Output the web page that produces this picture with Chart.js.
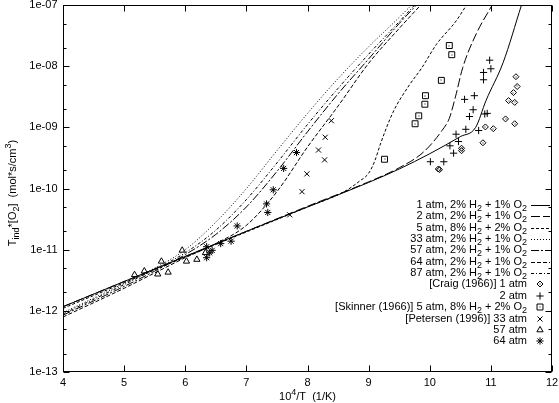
<!DOCTYPE html>
<html><head><meta charset="utf-8">
<script src="https://cdn.jsdelivr.net/npm/chart.js@4.4.0/dist/chart.umd.min.js"></script>
<style>html,body{margin:0;padding:0;background:#fff;}#wrap{width:559px;height:403px;}</style>
</head><body><div id="wrap"><canvas id="c" width="559" height="403"></canvas></div>
<script>
// ---------- axis ticks ----------
const xTicks = [4, 5, 6, 7, 8, 9, 10, 11, 12];
const xTickLabels = ['4', '5', '6', '7', '8', '9', '10', '11', '12'];
const yTicks = [1e-13, 1e-12, 1e-11, 1e-10, 1e-9, 1e-8, 1e-7];
const yTickLabels = ['1e-13', '1e-12', '1e-11', '1e-10', '1e-09', '1e-08', '1e-07'];
const yMinorMultipliers = [2, 5];
const xTitle = '10^4/T  (1/K)';
const yTitle = 'T_{ind}*[O_2]  (mol*s/cm^3)';

// ---------- model curves ----------
const x1atm = [4, 5, 6, 7, 8, 9, 9.5, 10, 10.5, 10.75, 10.92, 11.2, 11.5];
const y1atm = [1.17e-12, 3.02e-12, 7.76e-12, 2.0e-11, 5.0e-11, 1.26e-10, 2.09e-10, 3.72e-10, 7.08e-10, 1.0e-9, 2.75e-9, 1.15e-8, 1.0e-7];
const x2atm = [4, 5, 6, 7, 8, 9, 9.5, 9.9, 10.2, 10.32, 10.42, 10.54, 10.76, 11.02];
const y2atm = [1.17e-12, 3.02e-12, 7.76e-12, 2.0e-11, 5.13e-11, 1.29e-10, 2.19e-10, 3.98e-10, 8.91e-10, 1.41e-9, 3.16e-9, 9.55e-9, 3.39e-8, 1.0e-7];
const x5atm = [4, 5, 6, 7, 8, 8.6, 8.85, 9.0, 9.1, 9.2, 9.4, 9.67, 9.86, 10.11, 10.43, 10.6];
const y5atm = [1.10e-12, 2.88e-12, 7.59e-12, 1.95e-11, 5.01e-11, 8.91e-11, 1.32e-10, 1.78e-10, 2.82e-10, 5.62e-10, 1.78e-9, 5.01e-9, 9.12e-9, 2.29e-8, 5.50e-8, 1.0e-7];
const x33atm = [4, 5, 5.5, 6, 6.5, 7, 7.5, 8, 8.5, 9, 9.5, 9.7];
const y33atm = [9.33e-13, 2.82e-12, 5.01e-12, 1.0e-11, 2.82e-11, 1.0e-10, 4.17e-10, 1.70e-9, 6.31e-9, 2.09e-8, 6.31e-8, 1.0e-7];
const x57atm = [4, 5, 5.5, 6, 6.5, 7, 7.5, 8, 8.5, 9, 9.5, 9.78];
const y57atm = [8.51e-13, 2.51e-12, 4.47e-12, 8.32e-12, 1.78e-11, 5.01e-11, 1.91e-10, 8.51e-10, 3.55e-9, 1.32e-8, 5.01e-8, 1.0e-7];
const x64atm = [4, 5, 5.5, 6, 6.5, 7, 7.5, 8, 8.5, 9, 9.5, 9.85];
const y64atm = [7.94e-13, 2.34e-12, 4.17e-12, 7.41e-12, 1.26e-11, 2.51e-11, 8.91e-11, 4.79e-10, 2.24e-9, 1.12e-8, 4.17e-8, 1.0e-7];
const x87atm = [4, 5, 5.5, 6, 6.5, 7, 7.5, 8, 8.5, 9, 9.5, 9.75];
const y87atm = [8.91e-13, 2.69e-12, 4.79e-12, 8.91e-12, 2.09e-11, 6.61e-11, 2.63e-10, 1.12e-9, 4.37e-9, 1.58e-8, 5.37e-8, 1.0e-7];

// ---------- experimental data ----------
const xCraig1 = [11.41, 11.43, 11.37, 11.29, 11.39, 11.24, 11.39, 10.91, 11.04, 10.87, 10.52, 10.52, 10.14, 10.16];
const yCraig1 = [6.76e-9, 4.68e-9, 3.72e-9, 2.75e-9, 2.57e-9, 1.38e-9, 1.15e-9, 1.02e-9, 9.55e-10, 5.62e-10, 4.57e-10, 4.17e-10, 2.09e-10, 2.04e-10];
const xCraig2 = [10.98, 11.0, 10.88, 10.88, 10.73, 10.57, 10.71, 10.65, 10.90, 10.94, 10.59, 10.80, 10.43, 10.47, 10.33, 10.39, 10.01, 10.23];
const yCraig2 = [1.26e-8, 9.12e-9, 7.94e-9, 6.03e-9, 3.31e-9, 2.88e-9, 1.95e-9, 1.51e-9, 1.66e-9, 1.70e-9, 9.33e-10, 8.91e-10, 7.76e-10, 5.89e-10, 5.01e-10, 3.80e-10, 2.75e-10, 2.75e-10];
const xSkinner5 = [10.32, 10.36, 10.19, 9.93, 9.92, 9.82, 9.76, 9.26];
const ySkinner5 = [2.19e-8, 1.55e-8, 5.89e-9, 3.31e-9, 2.40e-9, 1.55e-9, 1.15e-9, 3.02e-10];
const xPet33 = [8.39, 8.29, 8.18, 8.28, 7.99, 7.91, 7.71];
const yPet33 = [1.29e-9, 6.92e-10, 4.27e-10, 2.95e-10, 1.74e-10, 8.91e-11, 3.72e-11];
const xPet57 = [5.17, 5.33, 5.55, 5.61, 5.72, 5.95, 6.02, 6.19, 6.33];
const yPet57 = [3.89e-12, 4.47e-12, 3.98e-12, 6.46e-12, 4.27e-12, 9.77e-12, 6.46e-12, 6.92e-12, 8.91e-12];
const xPet64 = [7.82, 7.61, 7.44, 7.33, 7.35, 6.85, 6.75, 6.58, 6.44, 6.35, 6.35, 6.40];
const yPet64 = [3.89e-10, 2.14e-10, 9.55e-11, 5.62e-11, 4.07e-11, 2.45e-11, 1.38e-11, 1.26e-11, 9.77e-12, 1.12e-11, 7.41e-12, 8.91e-12];

// ---------- labels ----------
const lineLabels = [
  '1 atm, 2% H_2 + 1% O_2', '2 atm, 2% H_2 + 1% O_2', '5 atm, 8% H_2 + 2% O_2',
  '33 atm, 2% H_2 + 1% O_2', '57 atm, 2% H_2 + 1% O_2', '64 atm, 2% H_2 + 1% O_2', '87 atm, 2% H_2 + 1% O_2'
];
const pointLabels = [
  '[Craig (1966)] 1 atm', '2 atm', '[Skinner (1966)] 5 atm, 8% H_2 + 2% O_2',
  '[Petersen (1996)] 33 atm', '57 atm', '64 atm'
];

const FONT = '"Liberation Sans", Arial, Helvetica, sans-serif';
const pts = (xs, ys) => xs.map((x, i) => ({x: x, y: ys[i]}));

const lineSeries = [[x1atm, y1atm], [x2atm, y2atm], [x5atm, y5atm], [x33atm, y33atm], [x57atm, y57atm], [x64atm, y64atm], [x87atm, y87atm]];
const lineDashes = [[], [9, 3], [3, 2], [1, 2], [8, 2, 2, 2], [4, 2], [3, 2, 1, 2]];
const pointSeries = [[xCraig1, yCraig1], [xCraig2, yCraig2], [xSkinner5, ySkinner5], [xPet33, yPet33], [xPet57, yPet57], [xPet64, yPet64]];
const pointStyles = ['rectRot', 'cross', 'rect', 'crossRot', 'triangle', 'star'];
const pointRadii = [3, 3.6, 4.2, 3.6, 3.6, 3.6];
const pointDots = [true, false, true, false, false, false];

const datasets = [];
lineSeries.forEach((s, i) => datasets.push({
  label: lineLabels[i], data: pts(s[0], s[1]), showLine: true, borderColor: '#000', borderWidth: 1,
  borderDash: lineDashes[i], pointRadius: 0, cubicInterpolationMode: 'monotone', fill: false, _kind: 'line'
}));
pointSeries.forEach((s, i) => datasets.push({
  label: pointLabels[i], data: pts(s[0], s[1]), showLine: false, borderColor: '#000', backgroundColor: 'rgba(0,0,0,0)',
  borderWidth: 1, pointStyle: pointStyles[i], pointRadius: pointRadii[i], _kind: 'point', _dot: pointDots[i]
}));

function parseRich(str) {
  const segs = []; let i = 0, buf = '';
  const push = (t, m) => { if (t) segs.push({t: t, m: m}); };
  while (i < str.length) {
    const c = str[i];
    if ((c === '_' || c === '^') && i + 1 < str.length) {
      push(buf, 0); buf = '';
      const m = c === '_' ? 1 : -1;
      if (str[i + 1] === '{') { const j = str.indexOf('}', i + 2); push(str.slice(i + 2, j), m); i = j + 1; }
      else { push(str[i + 1], m); i += 2; }
    } else { buf += c; i++; }
  }
  push(buf, 0);
  return segs;
}
function segFont(s, size) { return (s.m ? Math.round(size * 0.78) : size) + 'px ' + FONT; }
function richWidth(ctx, segs, size) {
  let w = 0; for (const s of segs) { ctx.font = segFont(s, size); w += ctx.measureText(s.t).width; } return w;
}
function drawRich(ctx, str, x, y, size, align) {
  const segs = parseRich(str);
  const w = richWidth(ctx, segs, size);
  let cx = align === 'right' ? x - w : (align === 'center' ? x - w / 2 : x);
  ctx.textAlign = 'left'; ctx.textBaseline = 'middle';
  for (const s of segs) {
    ctx.font = segFont(s, size);
    const dy = s.m === 1 ? size * 0.32 : (s.m === -1 ? -size * 0.42 : 0);
    ctx.fillText(s.t, cx, y + dy);
    cx += ctx.measureText(s.t).width;
  }
}

const framePlugin = {
  id: 'frame',
  afterDatasetsDraw(chart) {
    const ctx = chart.ctx;
    ctx.save();
    ctx.fillStyle = '#000';
    chart.data.datasets.forEach((ds, di) => {
      if (!ds._dot) return;
      chart.getDatasetMeta(di).data.forEach(el => { ctx.fillRect(Math.round(el.x) - 0.5, Math.round(el.y) - 0.5, 1, 1); });
    });
    ctx.restore();
  },
  afterDraw(chart) {
    const ctx = chart.ctx, a = chart.chartArea, xs = chart.scales.x, ys = chart.scales.y;
    ctx.save();
    ctx.strokeStyle = '#000'; ctx.fillStyle = '#000'; ctx.lineWidth = 1; ctx.setLineDash([]);
    const L = Math.round(a.left) + 0.5, R = Math.round(a.right) - 0.5, T = Math.round(a.top) + 0.5, B = Math.round(a.bottom) - 0.5;
    ctx.strokeRect(L, T, R - L, B - T);
    ctx.beginPath();
    xTicks.forEach(v => {
      const px = Math.round(xs.getPixelForValue(v)) + 0.5;
      ctx.moveTo(px, B); ctx.lineTo(px, B - 6);
      ctx.moveTo(px, T); ctx.lineTo(px, T + 6);
    });
    yTicks.forEach((v, i) => {
      const py = Math.round(ys.getPixelForValue(v)) + 0.5;
      ctx.moveTo(L, py); ctx.lineTo(L + 6, py);
      ctx.moveTo(R, py); ctx.lineTo(R - 6, py);
      if (i < yTicks.length - 1) yMinorMultipliers.forEach(m => {
        const pm = Math.round(ys.getPixelForValue(v * m)) + 0.5;
        ctx.moveTo(L, pm); ctx.lineTo(L + 3, pm);
        ctx.moveTo(R, pm); ctx.lineTo(R - 3, pm);
      });
    });
    ctx.stroke();
    ctx.font = '11px ' + FONT;
    ctx.textAlign = 'right'; ctx.textBaseline = 'middle';
    yTicks.forEach((v, i) => ctx.fillText(yTickLabels[i], L - 6, ys.getPixelForValue(v)));
    ctx.textAlign = 'center'; ctx.textBaseline = 'top';
    xTicks.forEach((v, i) => ctx.fillText(xTickLabels[i], xs.getPixelForValue(v), B + 6));
    drawRich(ctx, xTitle, (L + R) / 2, 397, 11, 'center');
    ctx.save(); ctx.translate(13, 193); ctx.rotate(-Math.PI / 2);
    drawRich(ctx, yTitle, 0, 0, 11, 'center');
    ctx.restore();
    // legend
    const textRight = 527, sx0 = 531, sx1 = 550, mx = 540, y0 = 205, dy = 11.35;
    chart.data.datasets.forEach((ds, i) => {
      const y = y0 + i * dy;
      drawRich(ctx, ds.label, textRight, y, 11, 'right');
      if (ds._kind === 'line') {
        ctx.setLineDash(ds.borderDash); ctx.beginPath();
        ctx.moveTo(sx0, Math.round(y) + 0.5); ctx.lineTo(sx1, Math.round(y) + 0.5); ctx.stroke();
        ctx.setLineDash([]);
      } else {
        ctx.fillStyle = 'rgba(0,0,0,0)';
        Chart.helpers.drawPoint(ctx, {pointStyle: ds.pointStyle, radius: ds.pointRadius, rotation: 0, borderWidth: 1}, mx, Math.round(y));
        ctx.fillStyle = '#000';
        if (ds._dot) ctx.fillRect(mx - 0.5, Math.round(y) - 0.5, 1, 1);
      }
    });
    ctx.restore();
  }
};

new Chart(document.getElementById('c'), {
  type: 'scatter',
  data: {datasets: datasets},
  options: {
    responsive: false, animation: false, devicePixelRatio: 1,
    layout: {padding: {left: 63, right: 7, top: 4, bottom: 31}},
    scales: {
      x: {type: 'linear', min: 4, max: 12, display: false},
      y: {type: 'logarithmic', min: 1e-13, max: 1e-7, display: false}
    },
    plugins: {legend: {display: false}, tooltip: {enabled: false}}
  },
  plugins: [framePlugin]
});
</script></body></html>
